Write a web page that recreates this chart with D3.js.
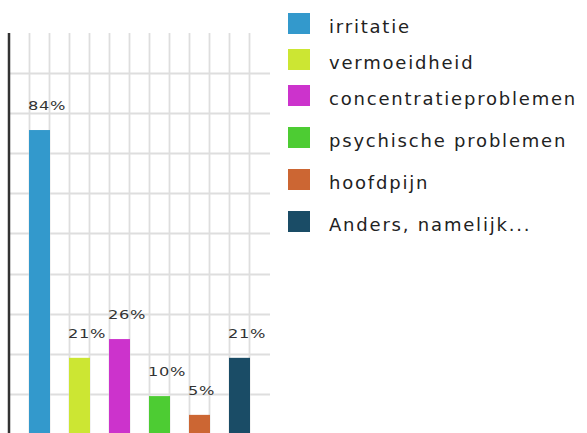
<!DOCTYPE html>
<html>
<head>
  <meta charset="utf-8" />
  <script src="https://d3js.org/d3.v7.min.js"></script>
  <style>
    body {
      margin: 0;
      padding: 0;
      background-color: #ffffff;
      overflow: hidden;
    }
    .bar-label {
      font-family: "DejaVu Sans", sans-serif;
      font-size: 12.5px;
      letter-spacing: 0.5px;
      fill: #333;
    }
    .legend-label {
      font-family: "DejaVu Sans", sans-serif;
      font-size: 18px;
      letter-spacing: 1.8px;
      fill: #222;
    }
  </style>
</head>
<body>
  <svg id="chart" width="587" height="433"></svg>
  <script>
    // data
    const categories = ["irritatie", "vermoeidheid", "concentratieproblemen", "psychische problemen", "hoofdpijn", "Anders, namelijk..."];
    const values = [84.2, 21.1, 26.3, 10.5, 5.3, 21.1];
    const labels = ["84%", "21%", "26%", "10%", "5%", "21%"];
    const colors = ["#3399cc", "#cce633", "#cc33cc", "#4dcc33", "#cc6633", "#1a4c66"];

    const svg = d3.select("#chart");
    const plotTop = 33, plotBottom = 434, plotLeft = 9, plotRight = 270;

    const x = d3.scaleBand().domain(categories).range([19, 259]);
    const y = d3.scaleLinear().domain([0, 100]).range([plotBottom, 73]);
    const color = d3.scaleOrdinal().domain(categories).range(colors);

    const grid = svg.append("g").attr("stroke", "#dedede").attr("stroke-width", 1.8);

    // horizontal grid
    const gridCount = 9;
    grid.selectAll(".hgrid")
      .data(d3.range(1, gridCount + 1))
      .enter()
      .append("line")
      .attr("x1", plotLeft)
      .attr("x2", plotRight)
      .attr("y1", d => Math.round(y(100 * d / gridCount)) + 0.5)
      .attr("y2", d => Math.round(y(100 * d / gridCount)) + 0.5);

    // vertical grid, two per category
    const vlines = [];
    categories.forEach(c => { vlines.push(x(c) + 10); vlines.push(x(c) + 30); });
    grid.selectAll(".vgrid")
      .data(vlines)
      .enter()
      .append("line")
      .attr("x1", d => d + 0.5)
      .attr("x2", d => d + 0.5)
      .attr("y1", plotTop)
      .attr("y2", plotBottom);

    // axis line
    svg.append("line")
      .attr("x1", plotLeft).attr("x2", plotLeft)
      .attr("y1", plotTop).attr("y2", plotBottom)
      .attr("stroke", "#333")
      .attr("stroke-width", 2.5);

    // bars
    svg.selectAll(".bar")
      .data(categories)
      .enter()
      .append("rect")
      .attr("class", "bar")
      .attr("x", d => x(d) + 10)
      .attr("y", (d, i) => y(values[i]))
      .attr("width", 21)
      .attr("height", (d, i) => plotBottom - y(values[i]))
      .attr("fill", d => color(d));

    // labels look stretched sideways in the original
    svg.selectAll(".bar-label")
      .data(categories)
      .enter()
      .append("text")
      .attr("class", "bar-label")
      .attr("transform", (d, i) => `translate(${x(d) + 9},${y(values[i]) - 20}) scale(1.3,1)`)
      .text((d, i) => labels[i]);

    // legend: rows with descenders are a bit taller
    const legend = svg.append("g").attr("transform", "translate(288,13)");
    let ly = 0;
    categories.forEach(c => {
      const row = legend.append("g").attr("transform", `translate(0,${ly})`);
      row.append("rect")
        .attr("width", 22)
        .attr("height", 21)
        .attr("fill", color(c));
      row.append("text")
        .attr("class", "legend-label")
        .attr("x", 41)
        .attr("y", 20)
        .text(c);
      ly += /[gjpqy]/.test(c) ? 42 : 36;
    });
  </script>
</body>
</html>
